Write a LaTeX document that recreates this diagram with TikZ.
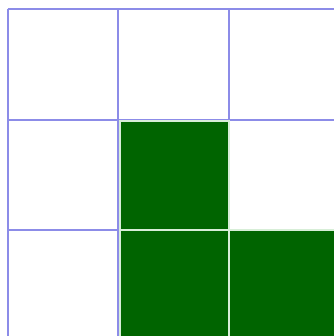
\documentclass[tikz,border=0pt]{standalone}
\begin{document}
\begin{tikzpicture}[x=1pt,y=-1pt,
  gridline/.style={draw={rgb,255:red,140;green,140;blue,232},line width=2pt},
  filled/.style={fill={rgb,255:red,0;green,100;blue,0},draw={rgb,255:red,215;green,238;blue,215},line width=1.8pt}]
\useasboundingbox (0,0) rectangle (333,336);
\fill[white] (0,0) rectangle (333,336);
% grid
\foreach \x in {7.5,118,228.5}{\draw[gridline] (\x,9.5) -- (\x,340);}
\foreach \y in {9.5,120,229.5}{\draw[gridline] (7.5,\y) -- (340,\y);}
% green cells
\draw[filled] (119.8,121.3) rectangle (229.3,230.3);
\draw[filled] (119.8,230.3) rectangle (229.3,342);
\draw[filled] (229.3,230.3) rectangle (342,342);
\end{tikzpicture}
\end{document}
